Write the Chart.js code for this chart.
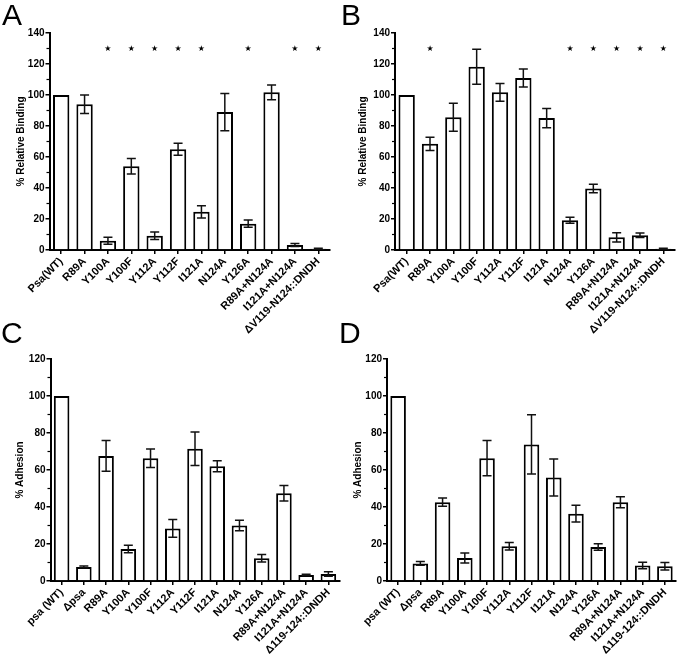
<!DOCTYPE html>
<html>
<head>
<meta charset="utf-8">
<script src="https://cdn.jsdelivr.net/npm/chart.js@4.4.1/dist/chart.umd.min.js"></script>
<style>
    body { margin: 0; background: #fff; }
    #wrap { position: relative; width: 678px; height: 656px; overflow: hidden; }
    canvas { position: absolute; left: 0; top: 0; }
    .tag { position: absolute; font: 30px "Liberation Sans", Arial, sans-serif; line-height: 30px; color: #000; }
</style>
</head>
<body>
<div id="wrap">
    <canvas id="chartA" width="678" height="656"></canvas>
    <canvas id="chartB" width="678" height="656"></canvas>
    <canvas id="chartC" width="678" height="656"></canvas>
    <canvas id="chartD" width="678" height="656"></canvas>
    <div class="tag" style="left:2px;top:0px">A</div>
    <div class="tag" style="left:341px;top:0px">B</div>
    <div class="tag" style="left:1px;top:318px">C</div>
    <div class="tag" style="left:339px;top:318px">D</div>
</div>
<script>
// categories
const bindingLabels = ["Psa(WT)", "R89A", "Y100A", "Y100F", "Y112A", "Y112F", "I121A", "N124A", "Y126A", "R89A+N124A", "I121A+N124A", "ΔV119-N124::DNDH"];
const adhesionLabels = ["psa (WT)", "Δpsa", "R89A", "Y100A", "Y100F", "Y112A", "Y112F", "I121A", "N124A", "Y126A", "R89A+N124A", "I121A+N124A", "Δ119-124::DNDH"];

// panel A - % relative binding
const bindingA = [100, 94, 6, 54, 9.2, 65, 24.6, 89, 17, 101.7, 3.2, 0.8];
const errorA   = [0, 6, 2.3, 5, 2.4, 3.9, 4, 12, 2.3, 4.7, 1, 0.3];
const starsA   = [2, 3, 4, 5, 6, 8, 10, 11];

// panel B - % relative binding
const bindingB = [100, 68.5, 85.6, 118.2, 101.7, 110.9, 85.1, 19.2, 39.7, 8.2, 9.5, 0.8];
const errorB   = [0, 4.3, 9, 11.3, 5.7, 5.8, 6.2, 2, 2.8, 3, 1.5, 0.3];
const starsB   = [1, 7, 8, 9, 10, 11];

// panel C - % adhesion
const adhesionC = [100, 7.6, 67.6, 17.3, 66.4, 28.4, 71.5, 62, 30, 12.3, 47.4, 3.3, 3.8];
const errorC    = [0, 0.5, 8.3, 2, 5, 4.8, 9, 3, 2.8, 2, 4.2, 0.3, 1.2];

// panel D - % adhesion
const adhesionD = [100, 9.5, 42.6, 12.4, 66.4, 18.8, 73.8, 56, 36.4, 18.4, 42.6, 8.4, 8];
const errorD    = [0, 1, 2.2, 2.7, 9.5, 2, 16, 10, 4.5, 1.8, 3, 1.8, 2];

Chart.defaults.color = "#000";
Chart.defaults.font.family = "'Liberation Sans', Arial, sans-serif";

const tickFont = { size: 10, weight: "bold" };
const labelFont = { size: 11, weight: "bold" };

function errorBarPlugin(values, errors, stars) {
    return {
        id: "errorBars",
        afterDatasetsDraw(chart) {
            const ctx = chart.ctx;
            const y = chart.scales.y;
            const bars = chart.getDatasetMeta(0).data;
            ctx.save();
            ctx.strokeStyle = "#111";
            ctx.lineWidth = 1.5;
            bars.forEach((bar, i) => {
                if (!errors[i]) return;
                const top = y.getPixelForValue(values[i] + errors[i]);
                const bot = y.getPixelForValue(Math.max(values[i] - errors[i], 0));
                ctx.beginPath();
                ctx.moveTo(bar.x, top); ctx.lineTo(bar.x, bot);
                ctx.moveTo(bar.x - 4.5, top); ctx.lineTo(bar.x + 4.5, top);
                ctx.moveTo(bar.x - 4.5, bot); ctx.lineTo(bar.x + 4.5, bot);
                ctx.stroke();
            });
            ctx.fillStyle = "#000";
            ctx.font = "8px 'DejaVu Sans'";
            ctx.textAlign = "center";
            ctx.textBaseline = "middle";
            stars.forEach(i => {
                ctx.fillText("★", bars[i].x, y.getPixelForValue(130));
            });
            ctx.restore();
        },
        afterDraw(chart) {
            // small minor ticks between the labelled ones
            const ctx = chart.ctx;
            const y = chart.scales.y;
            const x0 = chart.chartArea.left;
            ctx.save();
            ctx.strokeStyle = "#000";
            ctx.lineWidth = 1.2;
            for (let v = 10; v < y.max; v += 20) {
                const py = y.getPixelForValue(v);
                ctx.beginPath();
                ctx.moveTo(x0 - 3, py); ctx.lineTo(x0, py);
                ctx.stroke();
            }
            ctx.restore();
        }
    };
}

function drawPanel(id, labels, values, errors, stars, yMax, yTitle, box) {
    new Chart(document.getElementById(id), {
        type: "bar",
        data: {
            labels: labels,
            datasets: [{
                data: values,
                backgroundColor: "#fff",
                borderColor: "#000",
                borderWidth: 2,
                barPercentage: 0.7,
                categoryPercentage: 1
            }]
        },
        options: {
            responsive: false,
            animation: false,
            layout: { padding: { left: box.left, top: box.top, right: 678 - box.right, bottom: 0 } },
            plugins: { legend: { display: false }, tooltip: { enabled: false } },
            scales: {
                x: {
                    ticks: { font: labelFont, minRotation: 45, maxRotation: 45, autoSkip: false, padding: 1 },
                    grid: { offset: false, drawOnChartArea: false, tickLength: 4, color: "#000", lineWidth: 1.5 },
                    border: { color: "#000", width: 2 },
                    afterFit(s) { s.height = 656 - box.bottom; }
                },
                y: {
                    min: 0,
                    max: yMax,
                    ticks: { stepSize: 20, font: tickFont, padding: 1 },
                    grid: { drawOnChartArea: false, tickLength: 4, color: "#000", lineWidth: 1.5 },
                    border: { color: "#000", width: 2 },
                    title: { display: true, text: yTitle, font: tickFont, padding: { top: box.titlePad, bottom: 0 } },
                    afterFit(s) { s.width = box.axisX - box.left; }
                }
            }
        },
        plugins: [errorBarPlugin(values, errors, stars)]
    });
}

drawPanel("chartA", bindingLabels, bindingA, errorA, starsA, 140, "% Relative Binding",
    { left: 0, axisX: 49.5, right: 330, top: 33, bottom: 250, titlePad: 15 });
drawPanel("chartB", bindingLabels, bindingB, errorB, starsB, 140, "% Relative Binding",
    { left: 339, axisX: 395, right: 675, top: 33, bottom: 250, titlePad: 18 });
drawPanel("chartC", adhesionLabels, adhesionC, errorC, [], 120, "% Adhesion",
    { left: 0, axisX: 50.5, right: 339.5, top: 359, bottom: 581, titlePad: 14 });
drawPanel("chartD", adhesionLabels, adhesionD, errorD, [], 120, "% Adhesion",
    { left: 339, axisX: 387, right: 676, top: 359, bottom: 581, titlePad: 13 });
</script>
</body>
</html>
